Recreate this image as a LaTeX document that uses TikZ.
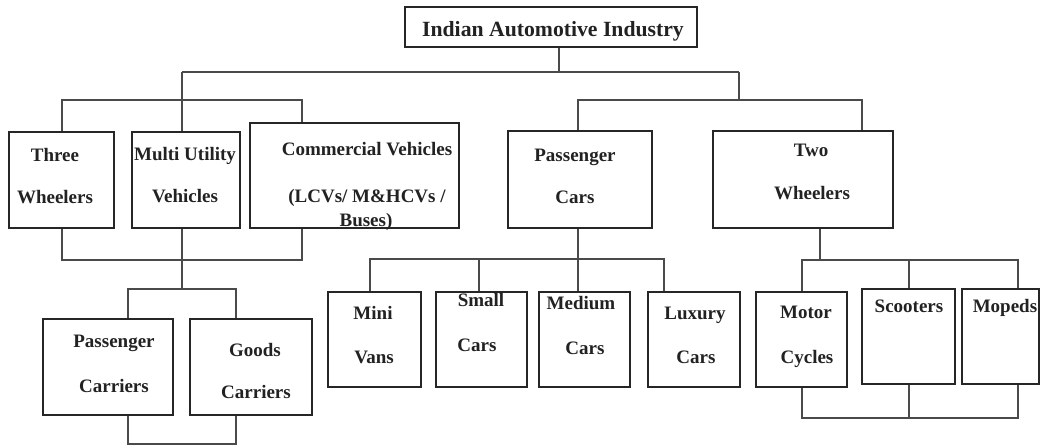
\documentclass[tikz,border=0pt]{standalone}
\usepackage{fontspec}
\setmainfont{Liberation Serif}
\definecolor{boxline}{HTML}{262626}
\definecolor{connline}{HTML}{4A4A4A}
\definecolor{txt}{HTML}{222222}
\tikzset{
  box/.style={draw=boxline, line width=2.3pt, fill=white, inner sep=0pt, rectangle},
  conn/.style={draw=connline, line width=1.4pt},
  lbl/.style={font=\fontsize{19}{21}\selectfont\bfseries, text=txt, anchor=base, inner sep=0pt},
  toplbl/.style={font=\fontsize{21.7}{24}\selectfont\bfseries, text=txt, anchor=base, inner sep=0pt}
}
\newcommand\mybox[5]{%
  \node[box, minimum width={(#4-#2)*1pt}, minimum height={(#5-#3)*1pt}] (#1) at ({(#2+#4)/2},{(#3+#5)/2}) {};}
\begin{document}
\begin{tikzpicture}[x=1pt, y=-1pt]
\fill[white] (0,0) rectangle (1042,446);
\useasboundingbox (0,0) rectangle (1042,446);

% junction coordinates
\coordinate (j0) at (559,72);
\coordinate (jL) at (182,72);
\coordinate (jR) at (739,72);
\coordinate (a1) at (62,100);
\coordinate (a2) at (302,100);
\coordinate (b1) at (578,100);
\coordinate (b2) at (862,100);
\coordinate (c1) at (62,260);
\coordinate (c2) at (302,260);
\coordinate (c3) at (182,289);
\coordinate (d1) at (128,289);
\coordinate (d2) at (236,289);
\coordinate (e1) at (128,444);
\coordinate (e2) at (236,444);
\coordinate (f1) at (370,259);
\coordinate (f2) at (479,259);
\coordinate (f0) at (578,259);
\coordinate (f4) at (664,259);
\coordinate (g0) at (820,260);
\coordinate (g1) at (802,260);
\coordinate (g2) at (909,260);
\coordinate (g3) at (1018,260);
\coordinate (h1) at (802,418);
\coordinate (h2) at (909,418);
\coordinate (h3) at (1018,418);

% boxes
\mybox{top}{405}{7}{697}{47}
\mybox{tw}{9}{132}{114}{228}
\mybox{muv}{132}{132}{240}{228}
\mybox{cv}{250}{123}{459}{228}
\mybox{pc}{508}{131}{652}{228}
\mybox{two}{713}{131}{893}{228}
\mybox{pcar}{43}{319}{173}{415}
\mybox{gcar}{190}{319}{312}{415}
\mybox{mini}{328}{292}{421}{387}
\mybox{small}{436}{292}{527}{387}
\mybox{med}{539}{292}{630}{387}
\mybox{lux}{648}{292}{740}{387}
\mybox{moto}{756}{292}{847}{387}
\mybox{scoot}{862}{289}{955}{384}
\mybox{moped}{962}{289}{1039}{384}

% connectors
\draw[conn] (top.south -| j0) -- (j0);
\draw[conn] (jL) -- (jR);
\draw[conn] (jL) -- (muv.north -| jL);
\draw[conn] (tw.north -| a1) |- (a2) -- (cv.north -| a2);
\draw[conn] (jR) -- (jR |- b1);
\draw[conn] (pc.north -| b1) |- (b2) -- (two.north -| b2);
\draw[conn] (tw.south -| c1) |- (c2) -- (cv.south -| c2);
\draw[conn] (muv.south -| c3) -- (c3);
\draw[conn] (pcar.north -| d1) |- (d2) -- (gcar.north -| d2);
\draw[conn] (pcar.south -| e1) |- (e2) -- (gcar.south -| e2);
\draw[conn] (pc.south -| f0) -- (med.north -| f0);
\draw[conn] (mini.north -| f1) |- (f4) -- (lux.north -| f4);
\draw[conn] (f2) -- (small.north -| f2);
\draw[conn] (two.south -| g0) -- (g0);
\draw[conn] (moto.north -| g1) |- (g3) -- (moped.north -| g3);
\draw[conn] (g2) -- (scoot.north -| g2);
\draw[conn] (moto.south -| h1) |- (h3) -- (moped.south -| h3);
\draw[conn] (scoot.south -| h2) -- (h2);

% labels
\node[toplbl] (ttop) at (553,37) {Indian Automotive Industry};
\node[lbl] (t1a) at (55,162) {Three};
\node[lbl] (t1b) at (55,204) {Wheelers};
\node[lbl] (t2a) at (185,161) {Multi Utility};
\node[lbl] (t2b) at (185,203) {Vehicles};
\node[lbl] (t3a) at (367,156) {Commercial Vehicles};
\node[lbl] (t3b) at (367,203) {(LCVs/ M\&HCVs /};
\node[lbl] (t3c) at (366,227) {Buses)};
\node[lbl] (t4a) at (575,162) {Passenger};
\node[lbl] (t4b) at (575,204) {Cars};
\node[lbl] (t5a) at (811,157) {Two};
\node[lbl] (t5b) at (812,200) {Wheelers};
\node[lbl] (t6a) at (114,348) {Passenger};
\node[lbl] (t6b) at (114,392) {Carriers};
\node[lbl] (t7a) at (255,357) {Goods};
\node[lbl] (t7b) at (256,399) {Carriers};
\node[lbl] (t8a) at (373,320) {Mini};
\node[lbl] (t8b) at (374,364) {Vans};
\node[lbl] (t9a) at (481,307) {Small};
\node[lbl] (t9b) at (477,352) {Cars};
\node[lbl] (t10a) at (581,310) {Medium};
\node[lbl] (t10b) at (585,355) {Cars};
\node[lbl] (t11a) at (695,320) {Luxury};
\node[lbl] (t11b) at (696,364) {Cars};
\node[lbl] (t12a) at (806,319) {Motor};
\node[lbl] (t12b) at (807,364) {Cycles};
\node[lbl] (t13) at (909,313) {Scooters};
\node[lbl] (t14) at (1005,313) {Mopeds};
\end{tikzpicture}
\end{document}
